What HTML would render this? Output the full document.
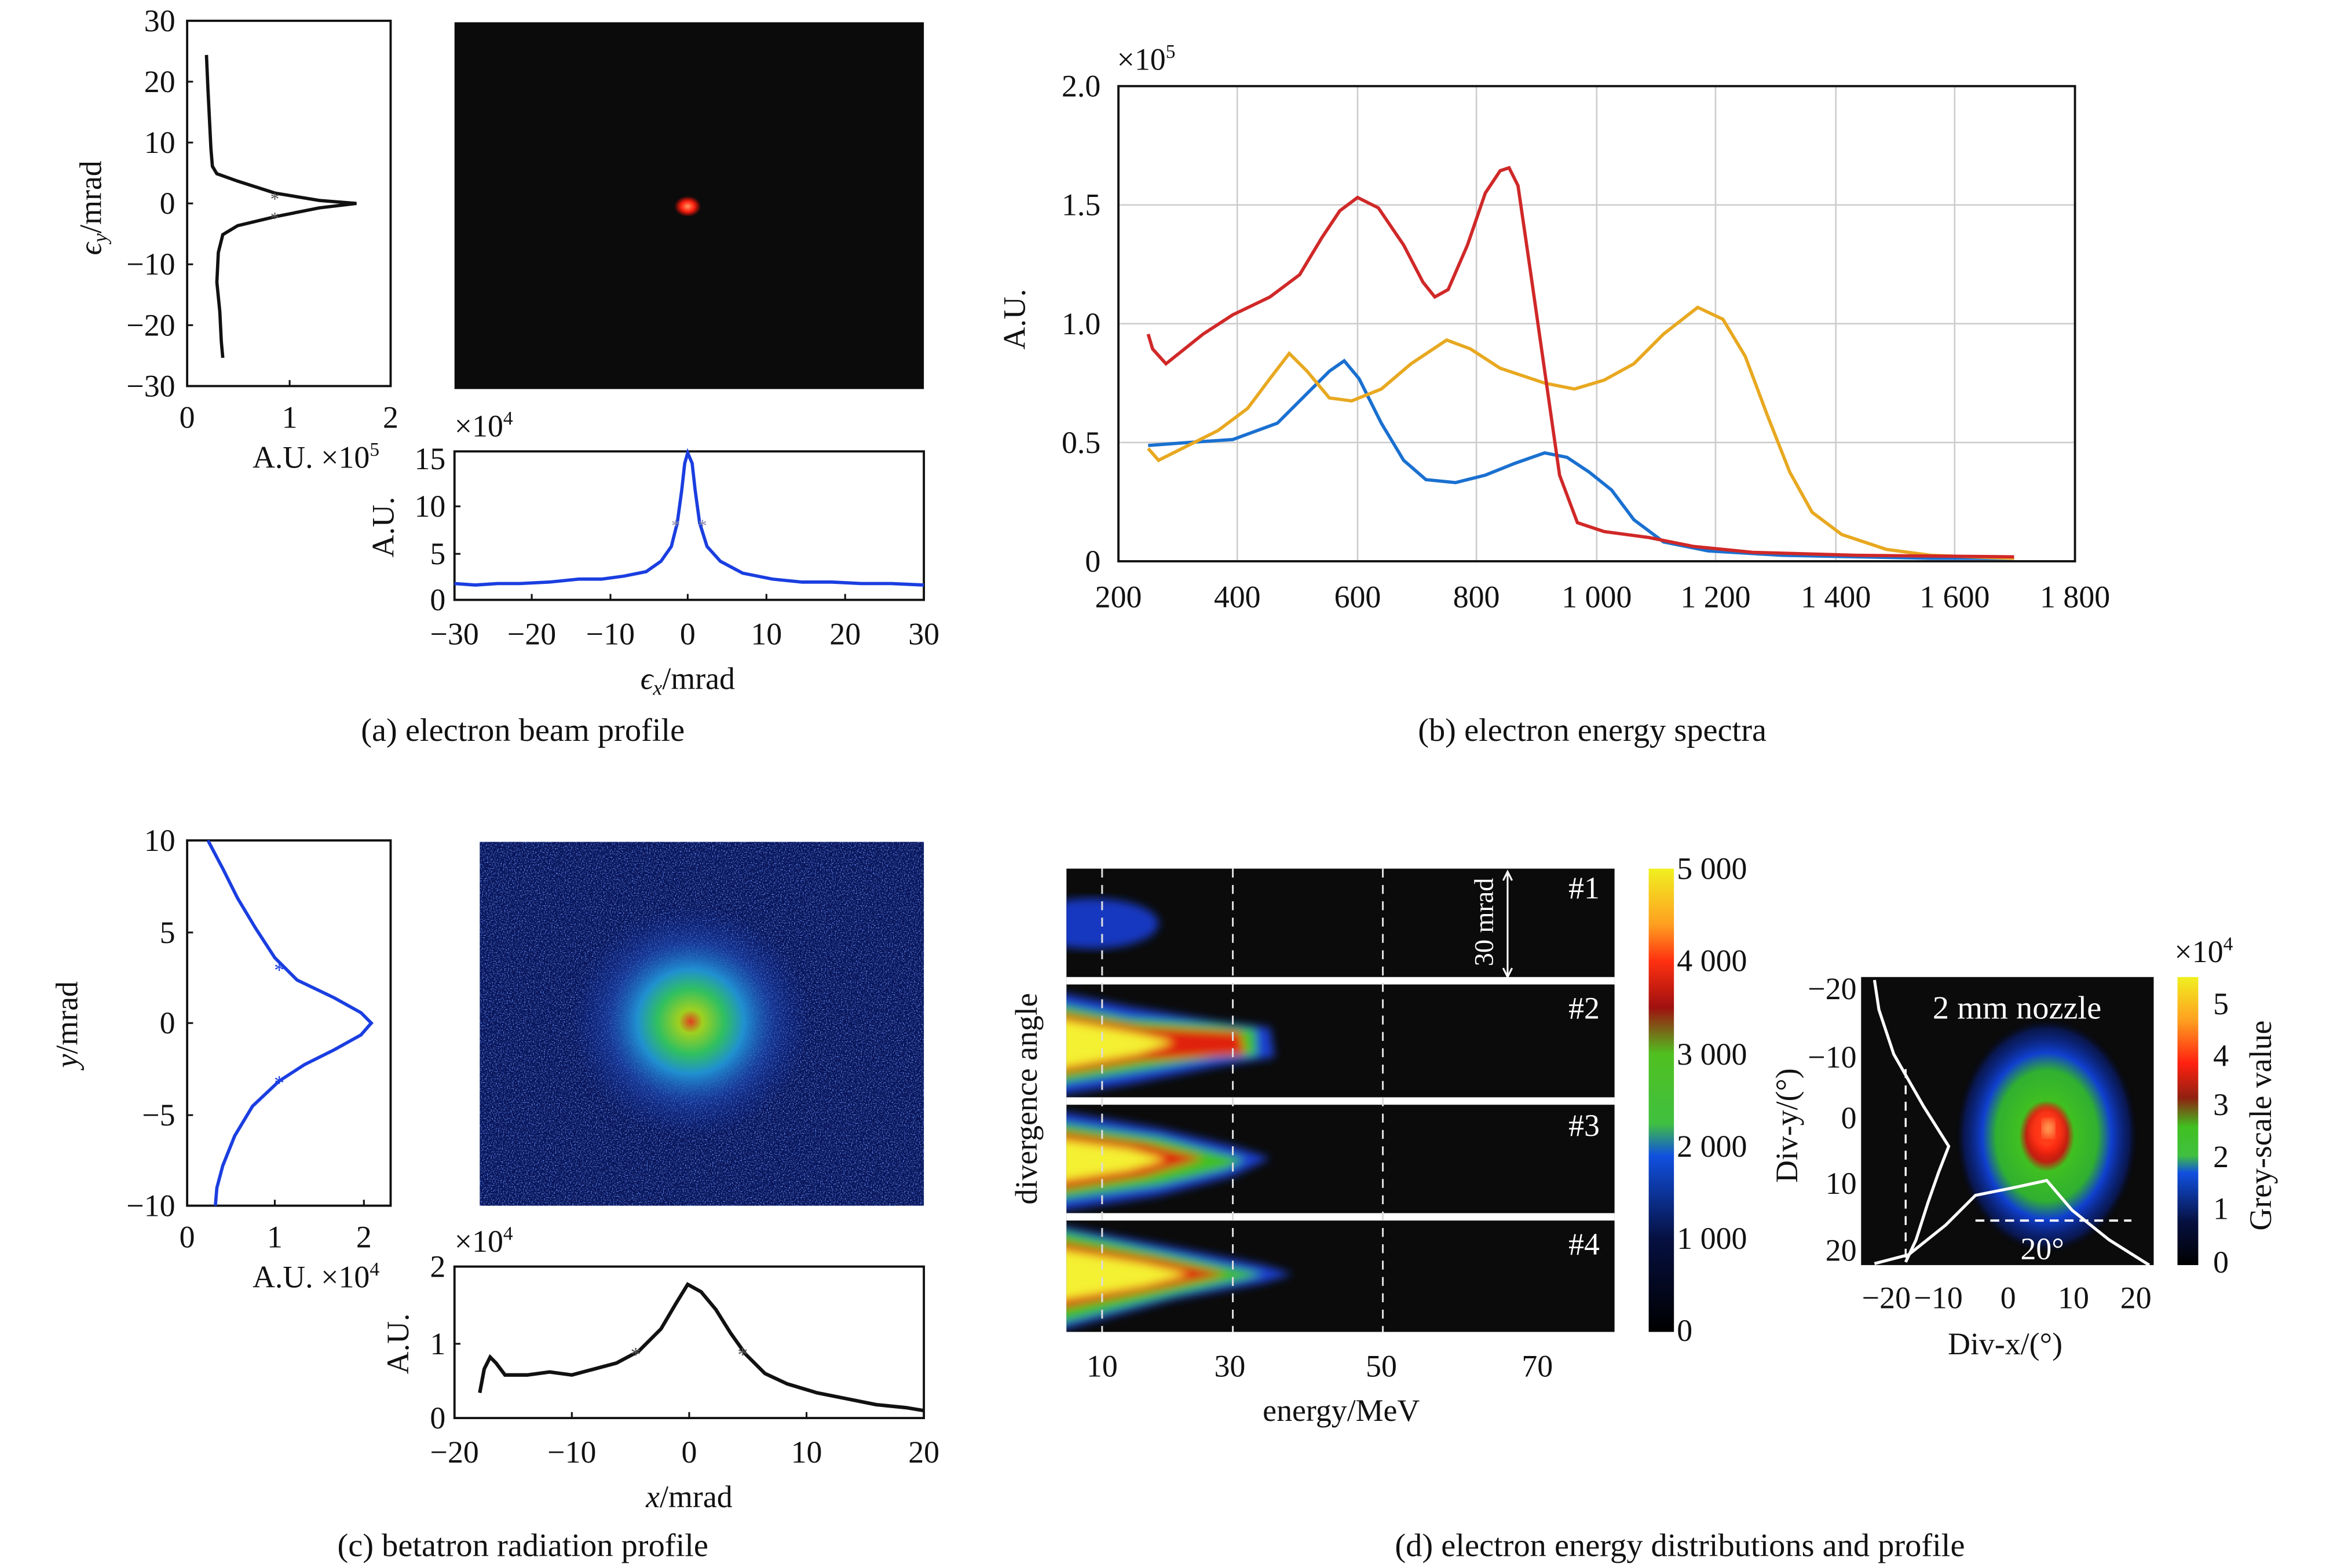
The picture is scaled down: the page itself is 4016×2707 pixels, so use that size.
<!DOCTYPE html>
<html><head><meta charset="utf-8"><style>html,body{margin:0;padding:0;background:#fff}svg{display:block}</style></head>
<body>
<svg xmlns="http://www.w3.org/2000/svg" width="4016" height="2707" viewBox="0 0 1566 1056" preserveAspectRatio="none" font-family="Liberation Serif, serif" font-size="21" fill="#111">
<defs>
<radialGradient id="rdot"><stop offset="0" stop-color="#ff9a60"/><stop offset="0.5" stop-color="#ff2010"/><stop offset="1" stop-color="#ff1000" stop-opacity="0"/></radialGradient>
<radialGradient id="cblob"><stop offset="0" stop-color="#e04020"/><stop offset="0.1" stop-color="#a0d020"/><stop offset="0.28" stop-color="#30c060"/><stop offset="0.45" stop-color="#2090d0"/><stop offset="0.7" stop-color="#2050c0" stop-opacity="0.5"/><stop offset="1" stop-color="#1030a0" stop-opacity="0"/></radialGradient>
<radialGradient id="dblob"><stop offset="0" stop-color="#ffd040"/><stop offset="0.1" stop-color="#ff2010"/><stop offset="0.22" stop-color="#c02010"/><stop offset="0.3" stop-color="#40c020"/><stop offset="0.55" stop-color="#30b030"/><stop offset="0.7" stop-color="#1040d0"/><stop offset="0.9" stop-color="#082080" stop-opacity="0.6"/><stop offset="1" stop-color="#000" stop-opacity="0"/></radialGradient>
<linearGradient id="cb1" x1="0" y1="0" x2="0" y2="1"><stop offset="0" stop-color="#f0f020"/><stop offset="0.12" stop-color="#ffa020"/><stop offset="0.2" stop-color="#ff3010"/><stop offset="0.3" stop-color="#a01010"/><stop offset="0.4" stop-color="#50c020"/><stop offset="0.55" stop-color="#40c040"/><stop offset="0.62" stop-color="#1050e0"/><stop offset="0.8" stop-color="#061040"/><stop offset="1" stop-color="#000"/></linearGradient>
<linearGradient id="cb2" x1="0" y1="0" x2="0" y2="1"><stop offset="0" stop-color="#f0f020"/><stop offset="0.15" stop-color="#ffa020"/><stop offset="0.3" stop-color="#ff2010"/><stop offset="0.42" stop-color="#902010"/><stop offset="0.52" stop-color="#40c020"/><stop offset="0.62" stop-color="#40c040"/><stop offset="0.68" stop-color="#1050e0"/><stop offset="0.85" stop-color="#061040"/><stop offset="1" stop-color="#000"/></linearGradient>
<filter id="noise" x="0" y="0" width="1" height="1"><feTurbulence type="fractalNoise" baseFrequency="1.2" numOctaves="2" seed="3"/><feColorMatrix type="matrix" values="0 0 0 0 0.15  0 0 0 0 0.3  0 0 0 0 0.95  3 0 0 0 -1.5"/></filter>
<filter id="bl"><feGaussianBlur stdDeviation="3"/></filter>
<clipPath id="dclip"><rect x="718" y="585" width="369" height="312"/></clipPath>
</defs>

<!-- (a) -->
<g>
<rect x="126" y="14" width="137" height="246" fill="none" stroke="#111" stroke-width="1.5"/>
<g stroke="#111" stroke-width="1.2"><line x1="126" y1="55" x2="130" y2="55"/><line x1="126" y1="96" x2="130" y2="96"/><line x1="126" y1="137" x2="130" y2="137"/><line x1="126" y1="178" x2="130" y2="178"/><line x1="126" y1="219" x2="130" y2="219"/><line x1="195" y1="260" x2="195" y2="256"/></g>
<g text-anchor="end"><text x="118" y="21">30</text><text x="118" y="62">20</text><text x="118" y="103">10</text><text x="118" y="144">0</text><text x="118" y="185">−10</text><text x="118" y="226">−20</text><text x="118" y="267">−30</text></g>
<g text-anchor="middle"><text x="126" y="288">0</text><text x="195" y="288">1</text><text x="263" y="288">2</text></g>
<text x="170" y="315">A.U. ×10<tspan font-size="13" dy="-8">5</tspan></text>
<text transform="translate(68,140) rotate(-90)" text-anchor="middle"><tspan font-style="italic">ϵ</tspan><tspan font-size="14" dy="4" font-style="italic">y</tspan><tspan dy="-4">/mrad</tspan></text>
<path d="M139,37 L140,60 L141,80 L142,100 L143,112 L146,117 L160,122 L185,130 L215,135 L240,137 L215,140 L185,146 L160,152 L150,158 L147,170 L146,190 L148,210 L149,230 L150,241" fill="none" stroke="#111" stroke-width="2.2"/>
<text x="185" y="138" font-size="12" text-anchor="middle" fill="#555">*</text><text x="185" y="151" font-size="12" text-anchor="middle" fill="#555">*</text>
<rect x="306" y="15" width="316" height="247" fill="#0b0b0b"/>
<ellipse cx="463" cy="139" rx="9" ry="7" fill="url(#rdot)"/>
<rect x="306" y="304" width="316" height="100" fill="none" stroke="#111" stroke-width="1.5"/>
<g stroke="#111" stroke-width="1.2"><line x1="358" y1="404" x2="358" y2="400"/><line x1="411" y1="404" x2="411" y2="400"/><line x1="463" y1="404" x2="463" y2="400"/><line x1="516" y1="404" x2="516" y2="400"/><line x1="569" y1="404" x2="569" y2="400"/><line x1="306" y1="373" x2="310" y2="373"/><line x1="306" y1="341" x2="310" y2="341"/></g>
<g text-anchor="end"><text x="300" y="411">0</text><text x="300" y="380">5</text><text x="300" y="348">10</text><text x="300" y="316">15</text></g>
<g text-anchor="middle"><text x="306" y="434">−30</text><text x="358" y="434">−20</text><text x="411" y="434">−10</text><text x="463" y="434">0</text><text x="516" y="434">10</text><text x="569" y="434">20</text><text x="622" y="434">30</text></g>
<text x="306" y="294">×10<tspan font-size="13" dy="-8">4</tspan></text>
<text transform="translate(265,355) rotate(-90)" text-anchor="middle">A.U.</text>
<text x="463" y="464" text-anchor="middle"><tspan font-style="italic">ϵ</tspan><tspan font-size="14" dy="4" font-style="italic">x</tspan><tspan dy="-4">/mrad</tspan></text>
<path d="M306,393 L320,394 L335,393 L350,393 L370,392 L390,390 L405,390 L420,388 L435,385 L445,378 L452,368 L456,352 L459,330 L461,312 L463,305 L466,312 L468,330 L471,352 L476,368 L485,378 L500,386 L520,390 L540,392 L560,392 L580,393 L600,393 L622,394" fill="none" stroke="#1a3ee0" stroke-width="2.2"/>
<text x="452" y="358" font-size="12" fill="#88a">*</text><text x="470" y="358" font-size="12" fill="#88a">*</text>
<text x="352" y="499" text-anchor="middle" font-size="22">(a) electron beam profile</text>
</g>

<!-- (b) -->
<g>
<g stroke="#ccc" stroke-width="1"><line x1="833" y1="58" x2="833" y2="378"/><line x1="914" y1="58" x2="914" y2="378"/><line x1="994" y1="58" x2="994" y2="378"/><line x1="1075" y1="58" x2="1075" y2="378"/><line x1="1155" y1="58" x2="1155" y2="378"/><line x1="1236" y1="58" x2="1236" y2="378"/><line x1="1316" y1="58" x2="1316" y2="378"/><line x1="753" y1="298" x2="1397" y2="298"/><line x1="753" y1="218" x2="1397" y2="218"/><line x1="753" y1="138" x2="1397" y2="138"/></g>
<rect x="753" y="58" width="644" height="320" fill="none" stroke="#111" stroke-width="1.5"/>
<g text-anchor="end"><text x="741" y="385">0</text><text x="741" y="305">0.5</text><text x="741" y="225">1.0</text><text x="741" y="145">1.5</text><text x="741" y="65">2.0</text></g>
<g text-anchor="middle"><text x="753" y="409">200</text><text x="833" y="409">400</text><text x="914" y="409">600</text><text x="994" y="409">800</text><text x="1075" y="409">1 000</text><text x="1155" y="409">1 200</text><text x="1236" y="409">1 400</text><text x="1316" y="409">1 600</text><text x="1397" y="409">1 800</text></g>
<text x="752" y="47">×10<tspan font-size="13" dy="-8">5</tspan></text>
<text transform="translate(690,215) rotate(-90)" text-anchor="middle">A.U.</text>
<path d="M773,300 L800,298 L830,296 L860,285 L880,265 L895,250 L905,243 L915,255 L930,285 L945,310 L960,323 L980,325 L1000,320 L1020,312 L1040,305 L1055,308 L1070,318 L1085,330 L1100,350 L1120,365 L1150,371 L1200,374 L1300,376 L1356,376" fill="none" stroke="#1a70d0" stroke-width="2.2"/>
<path d="M773,302 L780,310 L800,300 L820,290 L840,275 L855,255 L868,238 L880,250 L895,268 L910,270 L930,262 L950,245 L974,229 L990,235 L1010,248 L1040,258 L1060,262 L1080,256 L1100,245 L1120,225 L1143,207 L1160,215 L1175,240 L1190,280 L1205,318 L1220,345 L1240,360 L1270,370 L1300,374 L1356,376" fill="none" stroke="#e8a820" stroke-width="2.2"/>
<path d="M773,225 L776,235 L785,245 L795,237 L810,225 L830,212 L855,200 L875,185 L890,160 L902,142 L914,133 L928,140 L945,165 L958,190 L966,200 L975,195 L988,165 L1000,130 L1010,115 L1016,113 L1022,125 L1030,180 L1040,250 L1050,320 L1062,352 L1080,358 L1110,362 L1140,368 L1180,372 L1250,374 L1356,375" fill="none" stroke="#d02828" stroke-width="2.2"/>
<text x="1072" y="499" text-anchor="middle" font-size="22">(b) electron energy spectra</text>
</g>

<!-- (c) -->
<g>
<rect x="126" y="566" width="137" height="246" fill="none" stroke="#111" stroke-width="1.5"/>
<g stroke="#111" stroke-width="1.2"><line x1="126" y1="628" x2="130" y2="628"/><line x1="126" y1="689" x2="130" y2="689"/><line x1="126" y1="751" x2="130" y2="751"/><line x1="185" y1="812" x2="185" y2="808"/><line x1="245" y1="812" x2="245" y2="808"/></g>
<g text-anchor="end"><text x="118" y="573">10</text><text x="118" y="635">5</text><text x="118" y="696">0</text><text x="118" y="758">−5</text><text x="118" y="819">−10</text></g>
<g text-anchor="middle"><text x="126" y="840">0</text><text x="185" y="840">1</text><text x="245" y="840">2</text></g>
<text x="170" y="867">A.U. ×10<tspan font-size="13" dy="-8">4</tspan></text>
<text transform="translate(52,690) rotate(-90)" text-anchor="middle"><tspan font-style="italic">y</tspan>/mrad</text>
<path d="M140,566 L150,585 L160,605 L172,625 L185,645 L200,660 L225,672 L243,682 L250,689 L243,697 L225,707 L205,717 L188,728 L170,745 L158,765 L150,785 L146,800 L145,812" fill="none" stroke="#1a3ee0" stroke-width="2.2"/>
<text x="188" y="658" font-size="14" text-anchor="middle" fill="#1a3ee0">*</text><text x="188" y="734" font-size="14" text-anchor="middle" fill="#1a3ee0">*</text>
<rect x="323" y="567" width="299" height="245" fill="#081458"/>
<rect x="323" y="567" width="299" height="245" filter="url(#noise)"/>
<ellipse cx="465" cy="688" rx="80" ry="78" fill="url(#cblob)"/>
<rect x="306" y="853" width="316" height="102" fill="none" stroke="#111" stroke-width="1.5"/>
<g stroke="#111" stroke-width="1.2"><line x1="385" y1="955" x2="385" y2="951"/><line x1="464" y1="955" x2="464" y2="951"/><line x1="543" y1="955" x2="543" y2="951"/><line x1="306" y1="905" x2="310" y2="905"/></g>
<g text-anchor="end"><text x="300" y="962">0</text><text x="300" y="912">1</text><text x="300" y="860">2</text></g>
<g text-anchor="middle"><text x="306" y="985">−20</text><text x="385" y="985">−10</text><text x="464" y="985">0</text><text x="543" y="985">10</text><text x="622" y="985">20</text></g>
<text x="306" y="843">×10<tspan font-size="13" dy="-8">4</tspan></text>
<text transform="translate(275,905) rotate(-90)" text-anchor="middle">A.U.</text>
<text x="464" y="1015" text-anchor="middle"><tspan font-style="italic">x</tspan>/mrad</text>
<path d="M323,938 L326,922 L330,914 L334,918 L340,926 L355,926 L370,924 L385,926 L400,922 L415,918 L430,910 L445,895 L455,878 L463,865 L472,870 L482,882 L492,898 L502,912 L515,925 L530,932 L550,938 L570,942 L590,946 L610,948 L622,950" fill="none" stroke="#111" stroke-width="2.4"/>
<text x="428" y="917" font-size="14" text-anchor="middle" fill="#555">*</text><text x="500" y="917" font-size="14" text-anchor="middle" fill="#555">*</text>
<text x="352" y="1048" text-anchor="middle" font-size="22">(c) betatron radiation profile</text>
</g>

<!-- (d) -->
<g>
<rect x="718" y="585" width="369" height="312" fill="#0b0b0b"/>
<g clip-path="url(#dclip)">
<ellipse cx="735" cy="622" rx="45" ry="17" fill="#1838c0" filter="url(#bl)"/>
<g filter="url(#bl)">
<path d="M710,668 L760,678 L820,688 L855,692 L858,712 L820,718 L760,730 L710,738 Z" fill="#1a40d0"/>
<path d="M710,676 L760,686 L820,690 L845,693 L846,711 L820,712 L760,722 L710,730 Z" fill="#40c020"/>
<path d="M710,682 L770,692 L835,695 L838,710 L770,714 L710,724 Z" fill="#e02010"/>
<path d="M710,686 L765,696 L790,702 L765,710 L710,720 Z" fill="#f4f030"/>
</g>
<g filter="url(#bl)">
<path d="M710,748 L780,760 L830,772 L855,780 L830,792 L780,805 L710,816 Z" fill="#1a40d0"/>
<path d="M710,756 L780,766 L825,778 L838,781 L825,787 L780,798 L710,808 Z" fill="#40c020"/>
<path d="M710,762 L770,770 L810,780 L770,792 L710,802 Z" fill="#e02010"/>
<path d="M710,767 L760,774 L785,781 L760,788 L710,796 Z" fill="#f4f030"/>
</g>
<g filter="url(#bl)">
<path d="M710,825 L790,840 L850,852 L870,858 L850,864 L790,875 L710,897 Z" fill="#1a40d0"/>
<path d="M710,828 L790,845 L835,855 L850,858 L835,862 L790,872 L710,892 Z" fill="#40c020"/>
<path d="M710,836 L780,848 L825,858 L780,868 L710,882 Z" fill="#e02010"/>
<path d="M710,841 L770,851 L800,858 L770,866 L710,876 Z" fill="#f4f030"/>
</g>
</g>
<g fill="#fff"><rect x="718" y="658" width="369" height="5"/><rect x="718" y="739" width="369" height="5"/><rect x="718" y="817" width="369" height="5"/></g>
<g stroke="#ddd" stroke-width="1.2" stroke-dasharray="6,5"><line x1="742" y1="585" x2="742" y2="897"/><line x1="830" y1="585" x2="830" y2="897"/><line x1="931" y1="585" x2="931" y2="897"/></g>
<g fill="#fff" font-size="21"><text x="1056" y="605">#1</text><text x="1056" y="686">#2</text><text x="1056" y="765">#3</text><text x="1056" y="845">#4</text></g>
<text transform="translate(1005,621) rotate(-90)" text-anchor="middle" fill="#fff" font-size="18">30 mrad</text>
<g stroke="#fff" stroke-width="1.2" fill="none"><line x1="1015" y1="587" x2="1015" y2="658"/><path d="M1012,593 L1015,587 L1018,593 M1012,652 L1015,658 L1018,652"/></g>
<g text-anchor="middle"><text x="742" y="927">10</text><text x="828" y="927">30</text><text x="930" y="927">50</text><text x="1035" y="927">70</text></g>
<text x="903" y="957" text-anchor="middle">energy/MeV</text>
<text transform="translate(698,740) rotate(-90)" text-anchor="middle">divergence angle</text>
<rect x="1110" y="585" width="17" height="312" fill="url(#cb1)"/>
<g><text x="1129" y="592">5 000</text><text x="1129" y="654">4 000</text><text x="1129" y="717">3 000</text><text x="1129" y="779">2 000</text><text x="1129" y="841">1 000</text><text x="1129" y="903">0</text></g>

<rect x="1253" y="658" width="197" height="194" fill="#0b0b0b"/>
<ellipse cx="1378" cy="765" rx="62" ry="80" fill="url(#dblob)"/>
<ellipse cx="1378" cy="760" rx="11" ry="14" fill="#ff3818" filter="url(#bl)"/>
<ellipse cx="1379" cy="760" rx="4" ry="6" fill="#ffb060" filter="url(#bl)"/>
<g fill="none" stroke="#fff" stroke-width="2"><path d="M1262,660 L1265,680 L1275,710 L1295,745 L1312,772 L1305,790 L1298,810 L1290,835 L1283,850"/><path d="M1262,851 L1285,845 L1310,825 L1330,805 L1355,800 L1378,795 L1395,815 L1420,835 L1447,852"/></g>
<line x1="1283" y1="720" x2="1283" y2="850" stroke="#fff" stroke-width="1.3" stroke-dasharray="6,5"/>
<line x1="1330" y1="822" x2="1435" y2="822" stroke="#fff" stroke-width="1.5" stroke-dasharray="6,4"/>
<text x="1375" y="848" fill="#fff" text-anchor="middle">20°</text>
<text x="1358" y="686" fill="#fff" text-anchor="middle" font-size="22">2 mm nozzle</text>
<g text-anchor="end"><text x="1250" y="673">−20</text><text x="1250" y="719">−10</text><text x="1250" y="760">0</text><text x="1250" y="804">10</text><text x="1250" y="849">20</text></g>
<g text-anchor="middle"><text x="1270" y="881">−20</text><text x="1305" y="881">−10</text><text x="1352" y="881">0</text><text x="1396" y="881">10</text><text x="1438" y="881">20</text></g>
<text x="1350" y="912" text-anchor="middle">Div-x/(°)</text>
<text transform="translate(1210,758) rotate(-90)" text-anchor="middle">Div-y/(°)</text>
<rect x="1466" y="658" width="14" height="194" fill="url(#cb2)"/>
<g><text x="1490" y="683">5</text><text x="1490" y="718">4</text><text x="1490" y="751">3</text><text x="1490" y="786">2</text><text x="1490" y="821">1</text><text x="1490" y="857">0</text></g>
<text x="1464" y="648">×10<tspan font-size="13" dy="-8">4</tspan></text>
<text transform="translate(1529,758) rotate(-90)" text-anchor="middle">Grey-scale value</text>
<text x="1131" y="1048" text-anchor="middle" font-size="22">(d) electron energy distributions and profile</text>
</g>
</svg>
</body></html>
